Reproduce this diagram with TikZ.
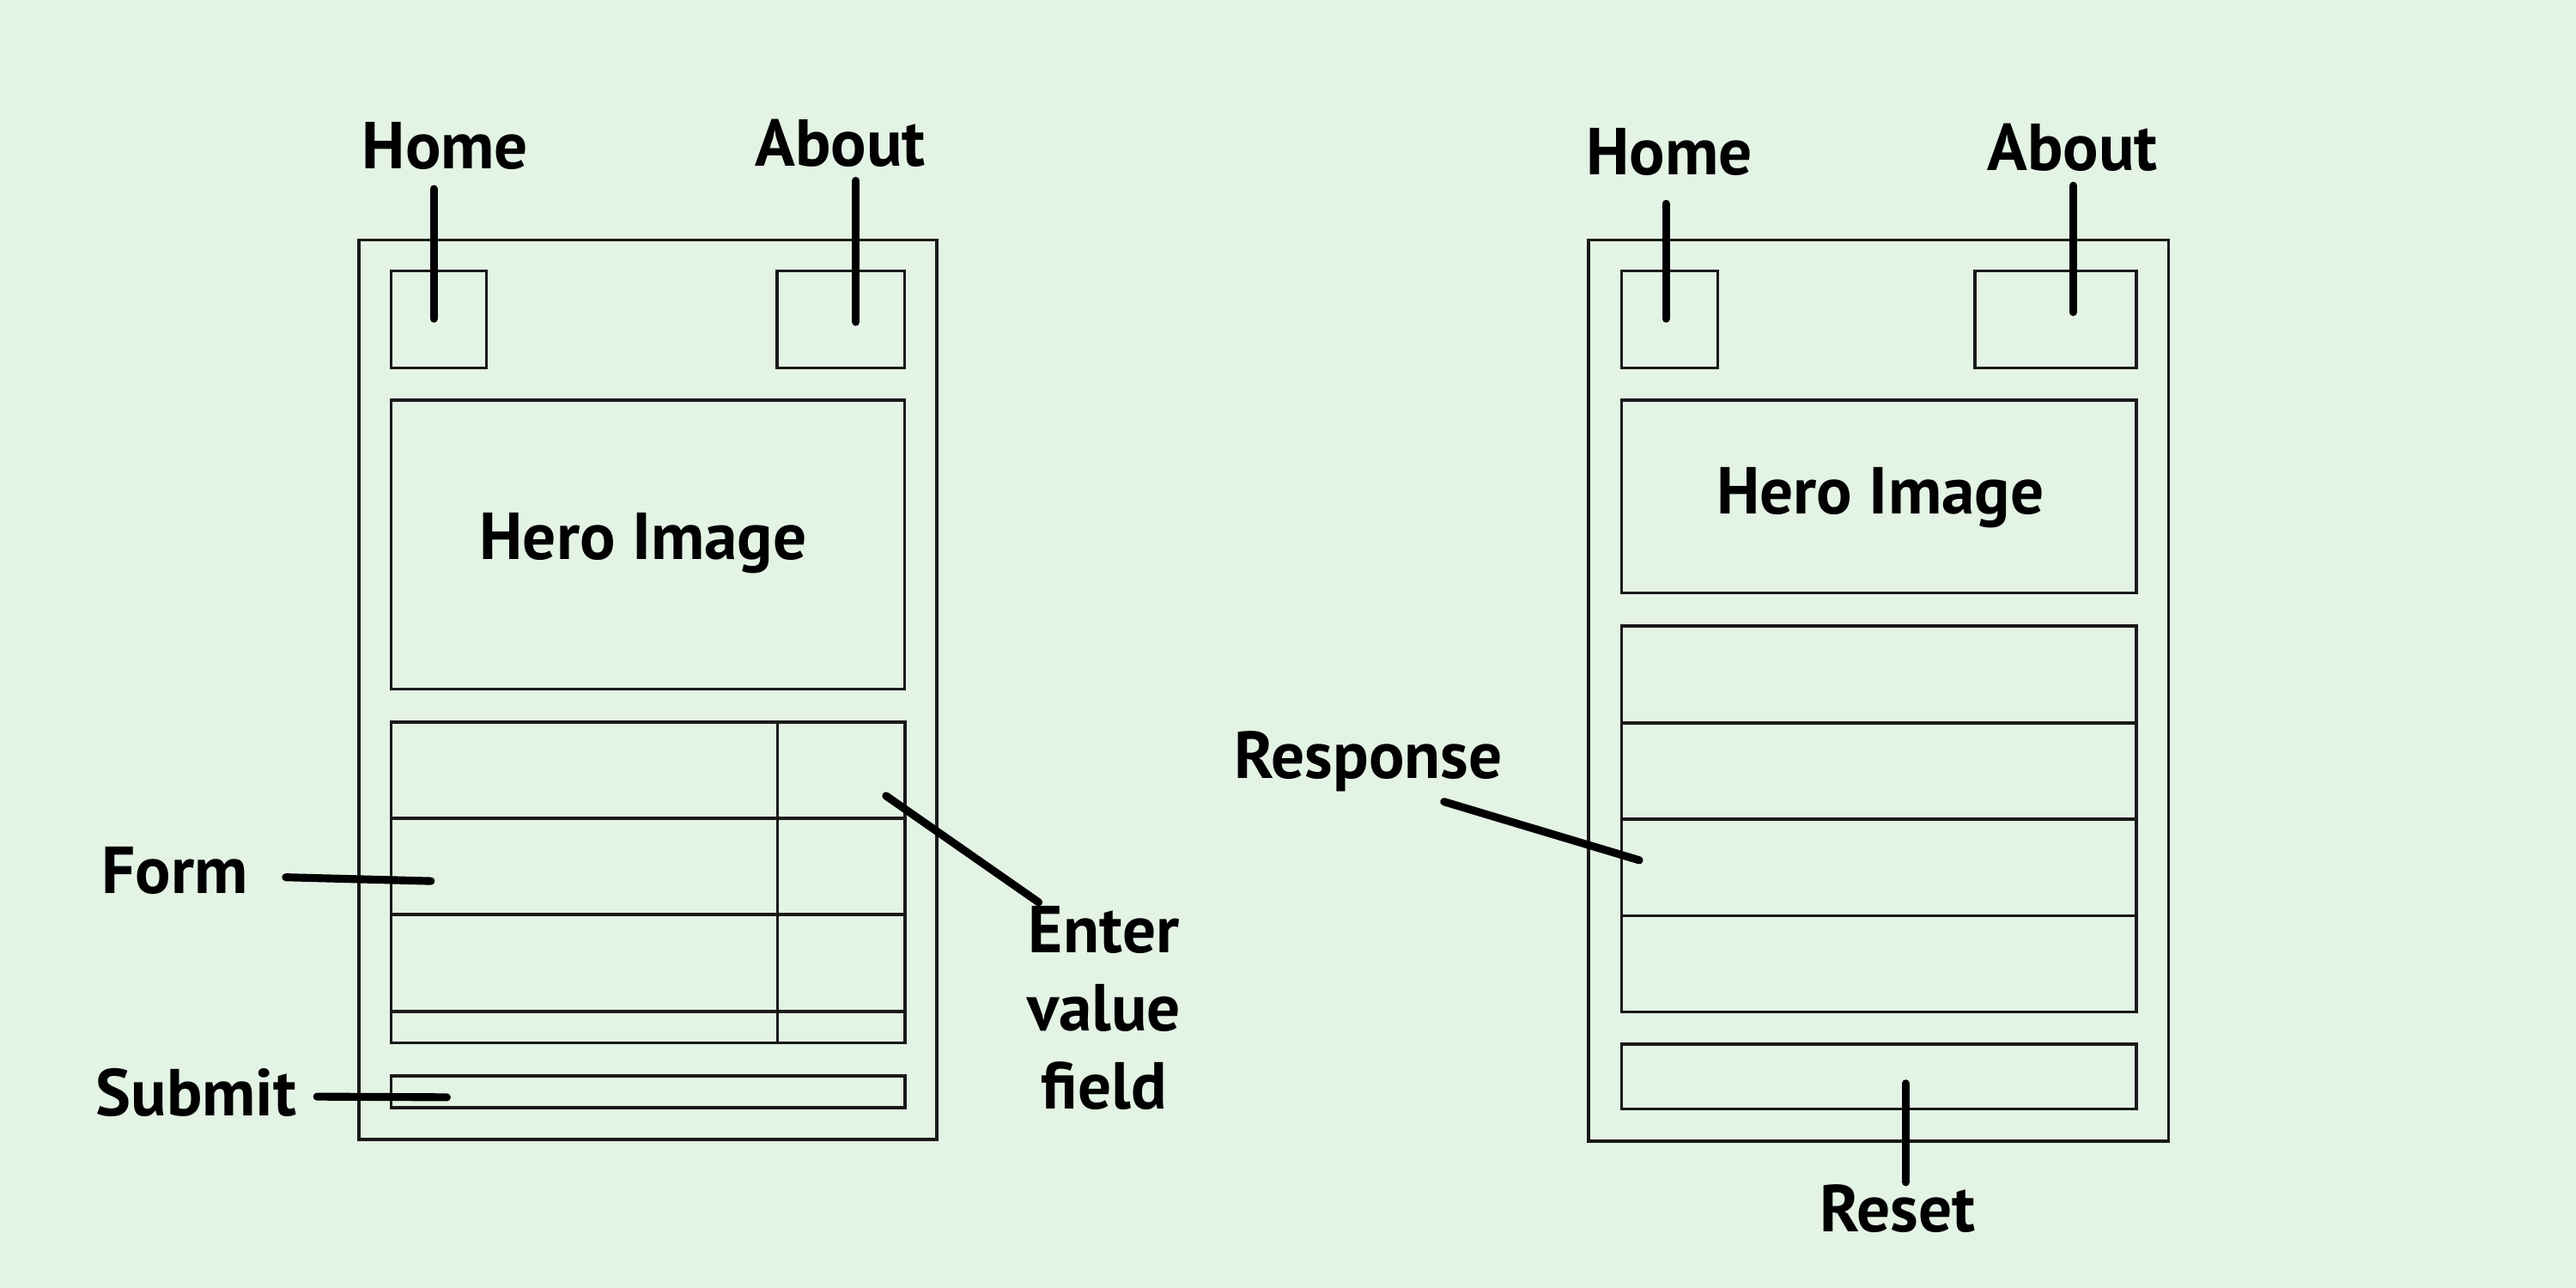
\documentclass[tikz,border=0pt]{standalone}
\usepackage{fontspec}
\setmainfont{PT Sans}
\usetikzlibrary{fit}
\definecolor{bgc}{HTML}{E3F3E4}
\definecolor{boxc}{HTML}{1A1A1A}
\begin{document}
\begin{tikzpicture}[x=0.0191327cm, y=-0.0191327cm,
  box/.style={draw=boxc, line width=1pt, inner sep=0pt},
  rule/.style={draw=boxc, line width=1pt},
  lbl/.style={font=\fontsize{22}{25.9}\selectfont\bfseries, inner sep=0pt, anchor=base, align=center},
  lead/.style={draw=black, line width=2.6pt, line cap=round}]
\fill[bgc] (0,0) rectangle (1568,784);
\useasboundingbox (0,0) rectangle (1568,784);

% ---------- left phone ----------
\node[box, fit={(218.4,146) (570.3,693.5)}] (outerL) {};
\node[box, fit={(238,165) (296,224)}] (homeBoxL) {};
\node[box, fit={(473,165) (550.5,224)}] (aboutBoxL) {};
\node[box, fit={(238,243.5) (550.5,419.5)}] (heroL) {};
\node[box, fit={(238,439.5) (551,634.8)}] (formBox) {};
\draw[rule] (473.3,439.5) -- (473.3,634.8);
\draw[rule] (238,498) -- (551,498);
\draw[rule] (238,556.7) -- (551,556.7);
\draw[rule] (238,615.6) -- (551,615.6);
\node[box, fit={(238,654.8) (551,674.3)}] (submitBox) {};

\node[lbl] (heroTxtL) at (391.5,340.6) {Hero Image};
\node[lbl] (homeL) at (271,102.5) {Home};
\node[lbl] (aboutL) at (511.5,101) {About};
\node[lbl] (formL) at (106.5,544) {Form};
\node[lbl] (submitL) at (119.5,679) {Submit};
\node[lbl] (enterL) at (672,675.2) {Enter\\value\\field};

\coordinate (homeLs) at (264,115);   \coordinate (homeLe) at (264,194);
\coordinate (aboutLs) at (521,110);  \coordinate (aboutLe) at (521,196);
\coordinate (formLs) at (174,534);   \coordinate (formLe) at (262.3,536.3);
\coordinate (submitLs) at (193,667.5); \coordinate (submitLe) at (272,667.9);
\coordinate (enterLs) at (632.2,549.2); \coordinate (enterLe) at (539.3,484.4);
\draw[lead] (homeLs) -- (homeLe);
\draw[lead] (aboutLs) -- (aboutLe);
\draw[lead] (formLs) -- (formLe);
\draw[lead] (submitLs) -- (submitLe);
\draw[lead] (enterLs) -- (enterLe);

% ---------- right phone ----------
\node[box, fit={(967,146) (1320,694.7)}] (outerR) {};
\node[box, fit={(987,165) (1045.5,224)}] (homeBoxR) {};
\node[box, fit={(1202,165) (1300.5,224)}] (aboutBoxR) {};
\node[box, fit={(987,243.5) (1300.5,361)}] (heroR) {};
\node[box, fit={(987,381) (1300.5,616)}] (respBox) {};
\draw[rule] (987,440) -- (1300.5,440);
\draw[rule] (987,498.5) -- (1300.5,498.5);
\draw[rule] (987,557.3) -- (1300.5,557.3);
\node[box, fit={(987,635.6) (1300.5,674.9)}] (resetBox) {};

\node[lbl] (heroTxtR) at (1144.5,313) {Hero Image};
\node[lbl] (homeR) at (1016,106.5) {Home};
\node[lbl] (aboutR) at (1261.5,104) {About};
\node[lbl] (respR) at (833,474) {Response};
\node[lbl] (resetR) at (1155,750) {Reset};

\coordinate (homeRs) at (1014,124);  \coordinate (homeRe) at (1014,194);
\coordinate (aboutRs) at (1262,113); \coordinate (aboutRe) at (1262,190);
\coordinate (respRs) at (879,488);   \coordinate (respRe) at (997.8,523.6);
\coordinate (resetRs) at (1160,719.6); \coordinate (resetRe) at (1160,659.5);
\draw[lead] (homeRs) -- (homeRe);
\draw[lead] (aboutRs) -- (aboutRe);
\draw[lead] (respRs) -- (respRe);
\draw[lead] (resetRs) -- (resetRe);
\end{tikzpicture}
\end{document}
